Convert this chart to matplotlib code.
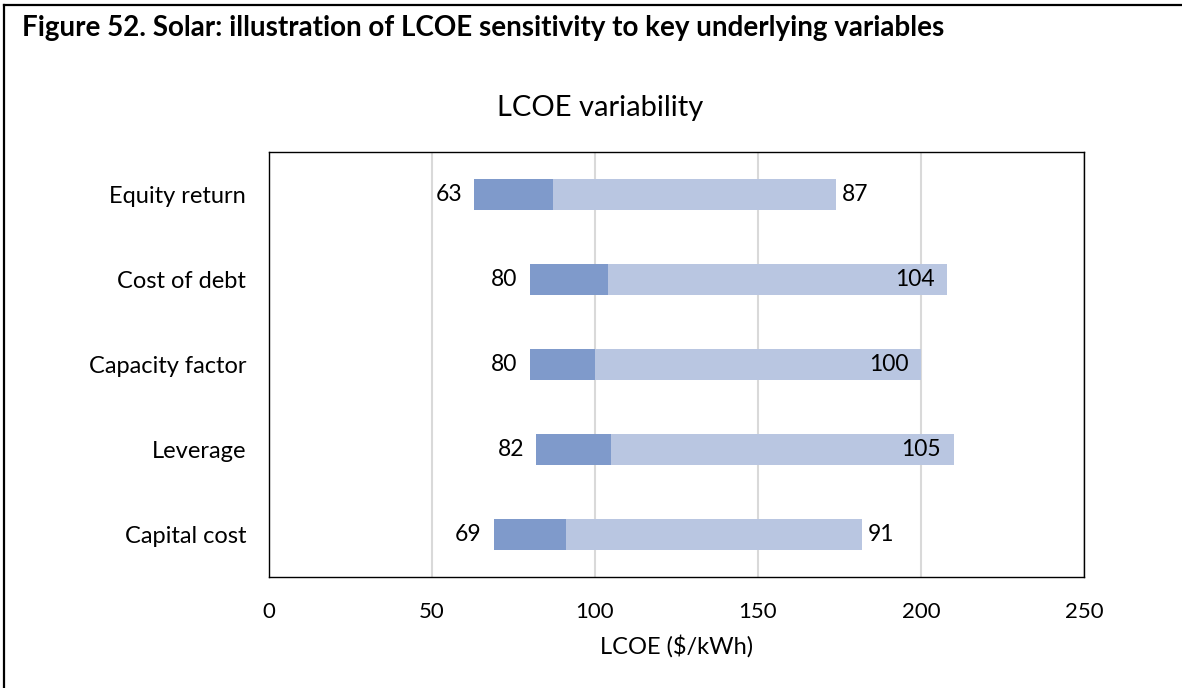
import matplotlib
matplotlib.use("Agg")
import matplotlib.pyplot as plt
from matplotlib.lines import Line2D

# Sensitivity data (LCOE, $/kWh)
categories = ["Equity return", "Cost of debt", "Capacity factor", "Leverage", "Capital cost"]
low_values = [63, 80, 80, 82, 69]
high_values = [87, 104, 100, 105, 91]

plt.rcParams["font.family"] = ["Lato", "DejaVu Sans"]

W, H = 1182, 688
fig = plt.figure(figsize=(W / 100, H / 100), dpi=100)
fig.patch.set_facecolor("white")

# plot area in pixel coordinates
px_left, px_right, px_top, px_bottom = 269, 1084, 152, 577
ax = fig.add_axes([px_left / W, 1 - px_bottom / H,
                   (px_right - px_left) / W, (px_bottom - px_top) / H])

dark = "#7F9ACB"
light = "#B9C6E1"
ypos = list(range(len(categories)))
bar_h = 0.365
val_fs = 16.5

for y, lo, hi in zip(ypos, low_values, high_values):
    ax.barh(y, hi - lo, left=lo, height=bar_h, color=dark, zorder=3)
    ax.barh(y, hi, left=hi, height=bar_h, color=light, zorder=3)
    ax.text(lo - 3.8, y, f"{lo}", ha="right", va="center", fontsize=val_fs, color="black", zorder=4)
    end = hi + hi
    if end >= 190:
        ax.text(end - 3.9, y, f"{hi}", ha="right", va="center", fontsize=val_fs, color="black", zorder=4)
    else:
        ax.text(end + 1.6, y, f"{hi}", ha="left", va="center", fontsize=val_fs, color="black", zorder=4)

ax.set_xlim(0, 250)
ax.set_ylim(len(categories) - 0.5, -0.5)
ax.set_xticks([0, 50, 100, 150, 200, 250])
ax.set_yticks(ypos)
ax.set_yticklabels(categories)
ax.tick_params(axis="both", length=0, colors="black")
ax.tick_params(axis="x", pad=18, labelsize=16)
ax.tick_params(axis="y", pad=16.5, labelsize=17)
ax.grid(axis="x", color="#D9D9D9", linewidth=1.5, zorder=0)
ax.set_axisbelow(True)
for s in ax.spines.values():
    s.set_color("black")
    s.set_linewidth(1.0)

ax.set_xlabel("LCOE ($/kWh)", fontsize=17, labelpad=9)
fig.text(600 / W, 1 - 108 / H, "LCOE variability", ha="center", va="center", fontsize=21)

fig.text(22 / W, 1 - 28 / H,
         "Figure 52. Solar: illustration of LCOE sensitivity to key underlying variables",
         ha="left", va="center", fontsize=20, fontweight="bold")

# outer frame (top and left edges)
fig.add_artist(Line2D([4 / W, 4 / W], [0, 1 - 5 / H], transform=fig.transFigure,
                      color="black", linewidth=1.6))
fig.add_artist(Line2D([4 / W, 1], [1 - 5 / H, 1 - 5 / H], transform=fig.transFigure,
                      color="black", linewidth=1.6))

fig.savefig("out.png", dpi=100, facecolor="white")
